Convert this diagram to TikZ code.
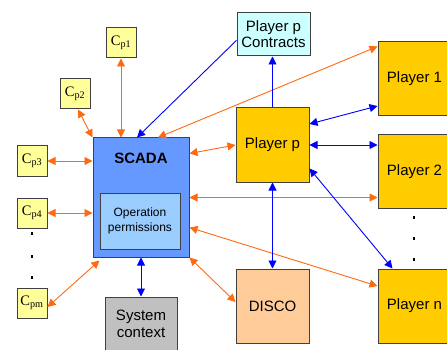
\documentclass[tikz,border=0pt]{standalone}
\usepackage{fontspec}
\setmainfont{Liberation Sans}
\newfontfamily\cpfont{Liberation Serif}
\usetikzlibrary{arrows.meta}
\definecolor{scadablue}{HTML}{6699FF}
\definecolor{permblue}{HTML}{99CCFF}
\definecolor{cpyellow}{HTML}{FFFF99}
\definecolor{contrcyan}{HTML}{CCFFFF}
\definecolor{playergold}{HTML}{FFCC00}
\definecolor{discopeach}{HTML}{FFCC99}
\definecolor{sysgray}{HTML}{C0C0C0}
\definecolor{boxline}{HTML}{404040}
\definecolor{orarrow}{HTML}{FF6A10}
\definecolor{bluearrow}{HTML}{0000FF}

\begin{document}
\begin{tikzpicture}[x=1pt,y=-1pt,
    box/.style={draw=boxline,line width=1pt,align=center,inner sep=0pt,font=\fontsize{15}{17}\selectfont},
    cpbox/.style={box,fill=cpyellow,minimum width=30pt,minimum height=30pt,font=\cpfont\fontsize{14.5}{16}\selectfont},
    player/.style={box,fill=playergold,minimum width=73pt,minimum height=74pt},
    dotmark/.style={fill=black,inner sep=0pt,minimum width=2.5pt,minimum height=3pt},
    oa/.style={draw=orarrow,line width=0.9pt,{Triangle[length=8pt,width=8pt]}-{Triangle[length=8pt,width=8pt]}},
    ba/.style={draw=bluearrow,line width=0.9pt,{Triangle[length=8pt,width=8pt]}-{Triangle[length=8pt,width=8pt]}},
    bs/.style={draw=bluearrow,line width=0.9pt,-{Triangle[length=8pt,width=8pt]}}]
      \useasboundingbox (0,0) rectangle (447,350);
      \clip (0,0) rectangle (447,350);

      \node[cpbox] (cp1) at (121,43) {C\textsubscript{p1}};
      \node[cpbox] (cp2) at (75,94) {C\textsubscript{p2}};
      \node[cpbox] (cp3) at (32,161) {C\textsubscript{p3}};
      \node[cpbox] (cp4) at (32,213) {C\textsubscript{p4}};
      \node[cpbox] (cpm) at (32,303) {C\textsubscript{pm}};
      \node[dotmark] (dl1) at (32,233) {};
      \node[dotmark] (dl2) at (32,256) {};
      \node[dotmark] (dl3) at (32,277) {};

      \node[box,fill=scadablue,minimum width=96pt,minimum height=119pt] (scada) at (141,197.5) {};
      \node[font=\bfseries\fontsize{15}{17}\selectfont] (scadat) at (141,158) {SCADA};
      \node[box,fill=permblue,minimum width=80pt,minimum height=56pt,font=\fontsize{12}{15}\selectfont] (perm) at (140,221) {Operation\\permissions};
      \node[box,fill=sysgray,minimum width=72pt,minimum height=54pt] (sys) at (141,324) {System\\context};

      \node[box,fill=contrcyan,minimum width=73pt,minimum height=43pt,font=\fontsize{15}{16}\selectfont] (contr) at (273.5,34.5) {Player p\\Contracts};
      \node[player] (pp) at (272.5,145) {Player p};
      \node[box,fill=discopeach,minimum width=73pt,minimum height=74pt] (disco) at (272.5,306) {DISCO};

      \node[player] (p1) at (414.5,79) {Player 1};
      \node[player] (p2) at (414.5,171.5) {Player 2};
      \node[player] (pn) at (414.5,306) {Player n};
      \node[dotmark] (dr1) at (414,217) {};
      \node[dotmark] (dr2) at (414,238) {};
      \node[dotmark] (dr3) at (414,259) {};

      \draw[oa] (cp1.south) -- (cp1.south |- scada.north);
      \draw[oa] ([xshift=3pt]cp2.south) -- (scada.north west);
      \draw[oa] (cp3.east) -- (cp3.east -| scada.west);
      \draw[oa] (cp4.east) -- (cp4.east -| scada.west);
      \draw[oa] ([yshift=-4pt]cpm.east) -- ([shift={(7pt,-3pt)}]scada.south west);
      \draw[oa] ([xshift=17pt]scada.north) -- ([yshift=-5pt]p1.north west);
      \draw[oa] ([yshift=44pt]scada.east) -- (pp.west);
      \draw[oa] (scada.east) -- (scada.east -| p2.west);
      \draw[oa] ([yshift=-30pt]scada.east) -- ([yshift=20pt]pn.west);
      \draw[oa] (scada.south east) -- ([yshift=4pt]disco.west);

      \draw[bs] (contr.189) -- ([xshift=-4pt]scada.north);
      \draw[ba] (scada.south) -- (sys.north);
      \draw[bs] (pp.north) -- (pp.north |- contr.south);
      \draw[ba] ([yshift=21pt]pp.east) -- ([yshift=-27pt]p1.west);
      \draw[ba] (pp.east) -- (pp.east -| p2.west);
      \draw[ba] ([yshift=14pt]pp.south east) -- ([xshift=15pt]pn.north west);
      \draw[ba] (pp.south) -- (disco.north);
    \end{tikzpicture}
\end{document}
